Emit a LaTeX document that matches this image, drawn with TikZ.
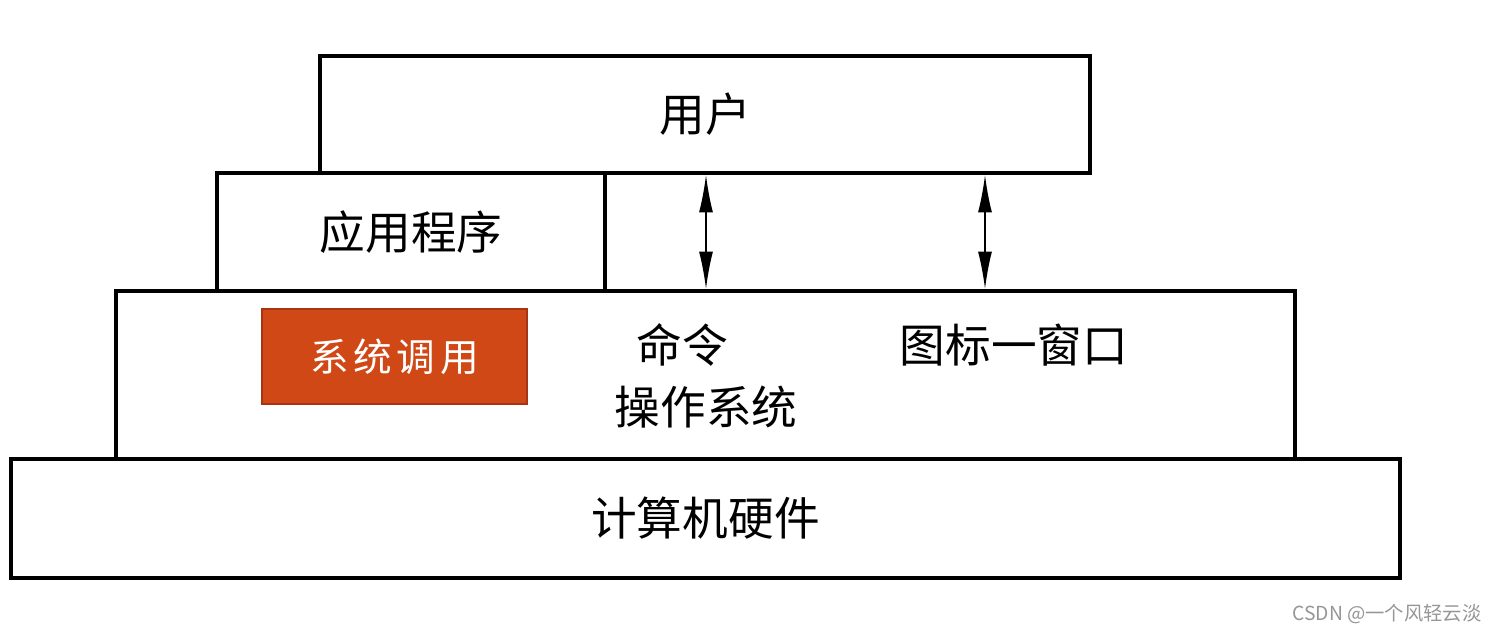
\documentclass[tikz,border=0pt]{standalone}
\usepackage{fontspec}
\setmainfont{Noto Sans CJK SC}
\usetikzlibrary{arrows.meta}
\definecolor{sysred}{RGB}{207,72,22}
\definecolor{sysedge}{RGB}{168,52,18}
\definecolor{markgray}{RGB}{150,150,150}
\begin{document}
\begin{tikzpicture}[x=0.02cm,y=-0.02cm,
  layer/.style={draw,line width=2.2pt,inner sep=0pt,font=\fontsize{26}{30}\selectfont},
  lbl/.style={inner sep=0pt,font=\fontsize{26}{30}\selectfont},
  both/.style={line width=0.9pt,{Latex[length=7.5mm,width=2.8mm]}-{Latex[length=7.5mm,width=2.8mm]}}]
\useasboundingbox (0,0) rectangle (1499,635);
% layers, bottom to top
\node[layer,minimum width=27.78cm,minimum height=2.38cm] (hw) at (705.5,518.5) {计算机硬件};
\node[layer,minimum width=23.58cm,minimum height=3.36cm] (os) at (705.5,375) {};
\node[layer,minimum width=7.76cm,minimum height=2.36cm] (app) at (411,232) {应用程序};
\node[layer,minimum width=15.4cm,minimum height=2.34cm] (usr) at (705,114.5) {用户};
% inside the operating system
\node[draw=sysedge,fill=sysred,line width=0.8pt,minimum width=5.3cm,minimum height=1.9cm,
  text=white,font=\fontsize{22}{26}\selectfont] (sys) at (394.5,356.5)
  {系\hspace{0.12em}统\hspace{0.12em}调\hspace{0.12em}用};
\node[lbl] (cmd) at (682,345) {命令};
\node[lbl] (gui) at (1014,345) {图标一窗口};
\node[lbl] (osname) at (706,407) {操作系统};
% user <-> os
\coordinate (cmdx) at (706,0);
\coordinate (guix) at (985,0);
\draw[both] (usr.south -| cmdx) -- (os.north -| cmdx);
\draw[both] (usr.south -| guix) -- (os.north -| guix);
\node[markgray,inner sep=0pt,font=\fontsize{11}{13}\selectfont] (mark) at (1387,614) {CSDN @一个风轻云淡};
\end{tikzpicture}
\end{document}
